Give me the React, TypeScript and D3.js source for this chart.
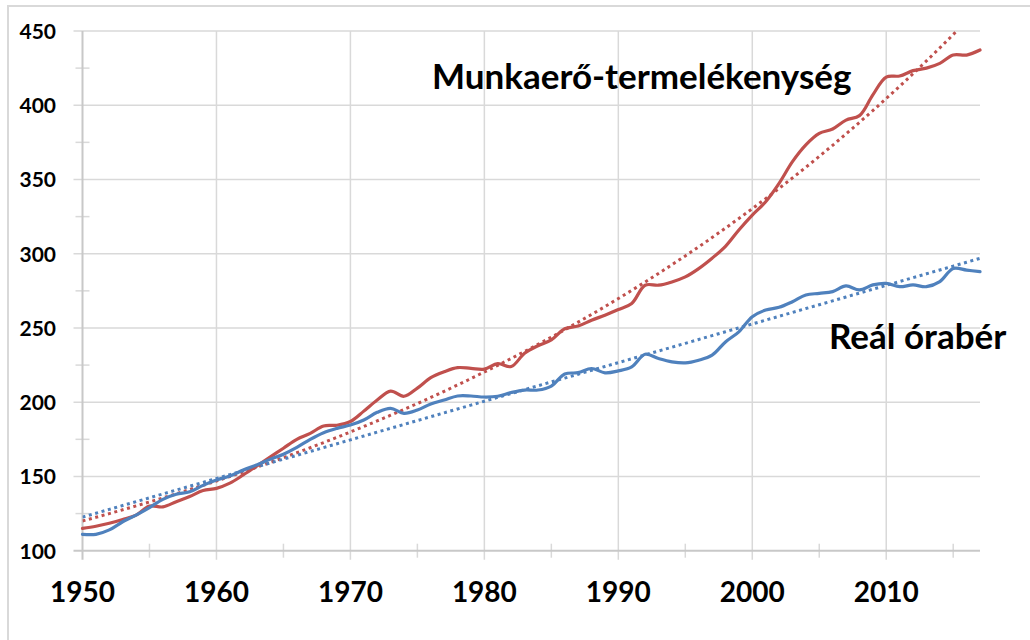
import React, { useRef, useEffect } from "react";
import * as d3 from "d3";

// years 1950..2017
const years: number[] = d3.range(1950, 2018);

// Munkaerő-termelékenység (1950-2017)
const productivity: number[] = [
  115, 116.5, 118.5, 121, 124, 130, 129.5, 133, 136.5, 140.5,
  142, 145.5, 151, 157, 163, 169, 175, 179, 184, 184.5,
  187, 194, 201.5, 207.5, 204, 209.5, 216.5, 220.5, 223.3, 222.8,
  222.3, 226, 224, 233, 238, 242, 249.5, 251.3, 255.2, 258.6,
  262.4, 266.5, 278.8, 278.8, 281, 284.4, 290, 297, 305, 316,
  326, 335, 347.4, 362, 373.3, 381, 384, 390, 393, 407,
  419, 419.7, 423.3, 425, 428.2, 433.8, 433.8, 437.2,
];

// Reál órabér (1950-2017)
const realWage: number[] = [
  111, 111, 114, 119.5, 124, 129, 134.6, 138, 139.7, 144,
  147.6, 150.3, 154.3, 157.7, 161.5, 165, 169.6, 175, 179.5, 182.4,
  184.6, 188, 193.2, 195.9, 192.5, 194.7, 198.8, 201.5, 204.2, 204.2,
  203.5, 204, 206.5, 208.2, 208.2, 210.9, 219, 219.9, 222.7, 219.8,
  221.1, 223.8, 232.3, 229.4, 227.2, 226.5, 228.3, 231.7, 240.6, 247.4,
  257.6, 262.1, 263.9, 267.7, 272.2, 273.3, 274.5, 278.3, 275.6, 279,
  280, 277.8, 279, 277.8, 281.2, 290.1, 289, 287.9,
];

const yTicks: number[] = [100, 150, 200, 250, 300, 350, 400, 450];
const xTicks: number[] = [1950, 1960, 1970, 1980, 1990, 2000, 2010];

const seriesLabels = ["Munkaerő-termelékenység", "Reál órabér"];

const RED = "#c0504d";
const BLUE = "#4f81bd";
const GRID = "#d9d9d9";
const FONT = "Lato, 'Open Sans', sans-serif";

// least squares fit, like Excel trendlines
function linearFit(xs: number[], ys: number[]) {
  const mx = d3.mean(xs)!;
  const my = d3.mean(ys)!;
  let num = 0;
  let den = 0;
  xs.forEach((x, i) => {
    num += (x - mx) * (ys[i] - my);
    den += (x - mx) * (x - mx);
  });
  const b = num / den;
  const a = my - b * mx;
  return (x: number) => a + b * x;
}

function expFit(xs: number[], ys: number[]) {
  const f = linearFit(xs, ys.map((v) => Math.log(v)));
  return (x: number) => Math.exp(f(x));
}

const Chart: React.FC = () => {
  const svgRef = useRef<SVGSVGElement>(null);

  useEffect(() => {
    const svg = d3.select(svgRef.current);
    svg.selectAll("*").remove();

    const width = 1030;
    const height = 640;
    const left = 82.5;
    const right = 980;
    const top = 31;
    const bottom = 550.7;

    const x = d3.scaleLinear().domain([1950, 2017]).range([left, right]);
    const y = d3.scaleLinear().domain([100, 450]).range([bottom, top]);

    // chart frame
    svg
      .append("rect")
      .attr("x", 8)
      .attr("y", 6)
      .attr("width", width + 20)
      .attr("height", height + 20)
      .attr("fill", "white")
      .attr("stroke", GRID)
      .attr("stroke-width", 2);

    // horizontal grid
    svg
      .append("g")
      .selectAll("line")
      .data(yTicks.slice(1))
      .enter()
      .append("line")
      .attr("x1", left - 9)
      .attr("x2", right)
      .attr("y1", (d) => y(d))
      .attr("y2", (d) => y(d))
      .attr("stroke", GRID)
      .attr("stroke-width", 1.5);

    // vertical grid at decades
    svg
      .append("g")
      .selectAll("line")
      .data(xTicks.slice(1))
      .enter()
      .append("line")
      .attr("x1", (d) => x(d))
      .attr("x2", (d) => x(d))
      .attr("y1", top)
      .attr("y2", bottom + 9)
      .attr("stroke", GRID)
      .attr("stroke-width", 1.5);

    // minor ticks
    const yMinor = yTicks.slice(0, -1).map((d) => d + 25);
    svg
      .append("g")
      .selectAll("line")
      .data(yMinor)
      .enter()
      .append("line")
      .attr("x1", left - 7)
      .attr("x2", left + 7)
      .attr("y1", (d) => y(d))
      .attr("y2", (d) => y(d))
      .attr("stroke", GRID)
      .attr("stroke-width", 1.5);

    const xMinor = xTicks.map((d) => d + 5);
    svg
      .append("g")
      .selectAll("line")
      .data(xMinor)
      .enter()
      .append("line")
      .attr("x1", (d) => x(d))
      .attr("x2", (d) => x(d))
      .attr("y1", bottom - 7)
      .attr("y2", bottom + 7)
      .attr("stroke", GRID)
      .attr("stroke-width", 1.5);

    // axis lines
    svg
      .append("line")
      .attr("x1", left - 9)
      .attr("x2", right)
      .attr("y1", bottom)
      .attr("y2", bottom)
      .attr("stroke", "#c8c8c8")
      .attr("stroke-width", 2);
    svg
      .append("line")
      .attr("x1", left)
      .attr("x2", left)
      .attr("y1", top)
      .attr("y2", bottom + 9)
      .attr("stroke", "#c8c8c8")
      .attr("stroke-width", 2);

    // tick labels
    svg
      .append("g")
      .selectAll("text")
      .data(yTicks)
      .enter()
      .append("text")
      .attr("x", 56)
      .attr("y", (d) => y(d) + 8)
      .attr("text-anchor", "end")
      .attr("font-family", FONT)
      .attr("font-weight", "bold")
      .attr("font-size", 21)
      .attr("fill", "#000")
      .text((d) => d);

    svg
      .append("g")
      .selectAll("text")
      .data(xTicks)
      .enter()
      .append("text")
      .attr("x", (d) => x(d))
      .attr("y", 601.7)
      .attr("text-anchor", "middle")
      .attr("font-family", FONT)
      .attr("font-weight", "bold")
      .attr("font-size", 28)
      .attr("fill", "#000")
      .text((d) => d);

    const defs = svg.append("defs");
    defs
      .append("clipPath")
      .attr("id", "plot-clip")
      .append("rect")
      .attr("x", left)
      .attr("y", top)
      .attr("width", right - left + 4)
      .attr("height", bottom - top);

    // dotted trendlines: exponential for productivity, linear for wage
    const trends = [
      { fit: expFit(years, productivity), color: RED },
      { fit: linearFit(years, realWage), color: BLUE },
    ];
    const trendLine = d3
      .line<number>()
      .x((d) => x(d))
      .y((d) => y(d));
    trends.forEach((t) => {
      svg
        .append("path")
        .attr("clip-path", "url(#plot-clip)")
        .attr(
          "d",
          d3
            .line<number>()
            .x((d) => x(d))
            .y((d) => y(t.fit(d)))(years)
        )
        .attr("fill", "none")
        .attr("stroke", t.color)
        .attr("stroke-width", 3)
        .attr("stroke-dasharray", "3 3.6");
    });
    void trendLine;

    const series = [
      { values: productivity, color: RED },
      { values: realWage, color: BLUE },
    ];

    const line = d3
      .line<number>()
      .x((_, i) => x(years[i]))
      .y((d) => y(d))
      .curve(d3.curveCatmullRom.alpha(0.5));

    series.forEach((s) => {
      svg
        .append("path")
        .datum(s.values)
        .attr("d", line)
        .attr("fill", "none")
        .attr("stroke", s.color)
        .attr("stroke-width", 3.2)
        .attr("stroke-linejoin", "round")
        .attr("stroke-linecap", "round");
    });

    // series labels
    svg
      .append("text")
      .attr("x", 432)
      .attr("y", 89)
      .attr("font-family", FONT)
      .attr("font-weight", "bold")
      .attr("font-size", 35)
      .attr("fill", "#000")
      .text(seriesLabels[0]);

    svg
      .append("text")
      .attr("x", 829)
      .attr("y", 349)
      .attr("font-family", FONT)
      .attr("font-weight", "bold")
      .attr("font-size", 35)
      .attr("fill", "#000")
      .text(seriesLabels[1]);
  }, []);

  return (
    <svg
      ref={svgRef}
      width={1030}
      height={640}
      style={{ position: "absolute", left: 0, top: 0, display: "block" }}
    ></svg>
  );
};

export default function App() {
  return <Chart />;
}
